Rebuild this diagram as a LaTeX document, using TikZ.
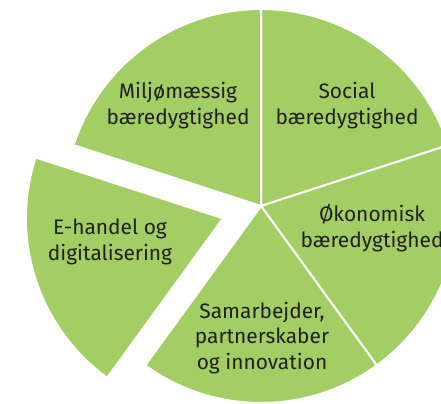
\documentclass[tikz,border=0pt]{standalone}
\usepackage{fontspec}
\setmainfont{Fira Sans}
\usetikzlibrary{calc}
\definecolor{piegreen}{HTML}{A2CE63}
\definecolor{txt}{HTML}{231F20}
\begin{document}
\begin{tikzpicture}[x=1bp,y=1bp,
  slice/.style={fill=piegreen,draw=white,line width=2bp,line join=miter},
  lbl/.style={align=center,text=txt,font=\fontsize{21}{26}\selectfont,inner sep=0pt}]
\useasboundingbox (0,0) rectangle (441,403);
\clip (0,0) rectangle (441,403);
\def\R{197}
\coordinate (c) at (261,197);
\coordinate (ce) at ($(c)+(198:40)$);
% slices
\filldraw[slice] (c) -- ++(90:\R) arc[start angle=90,end angle=18,radius=\R] -- cycle;
\filldraw[slice] (c) -- ++(18:\R) arc[start angle=18,end angle=-54,radius=\R] -- cycle;
\filldraw[slice] (c) -- ++(-54:\R) arc[start angle=-54,end angle=-126,radius=\R] -- cycle;
\filldraw[slice] (c) -- ++(90:\R) arc[start angle=90,end angle=162,radius=\R] -- cycle;
\filldraw[slice] (ce) -- ++(162:\R) arc[start angle=162,end angle=234,radius=\R] -- cycle;
% labels
\node[lbl] (miljo) at (178,297) {Miljømæssig\\bæredygtighed};
\node[lbl] (social) at (347,297) {Social\\bæredygtighed};
\node[lbl] (okon) at (372,175) {Økonomisk\\bæredygtighed};
\node[lbl] (ehandel) at (110,161) {E-handel og\\digitalisering};
\node[lbl] (samarb) at (262,65) {Samarbejder,\\partnerskaber\\og innovation};
\end{tikzpicture}
\end{document}
